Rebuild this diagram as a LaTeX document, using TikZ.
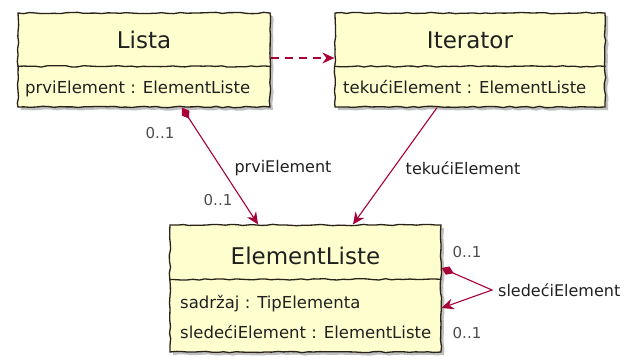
\documentclass[tikz,border=0pt]{standalone}
\usepackage{fontspec}
\setmainfont{DejaVu Sans}
\usetikzlibrary{arrows.meta,shadows,decorations.pathmorphing}
\definecolor{umlfill}{HTML}{FEFECE}
\definecolor{umlline}{HTML}{2A2218}
\definecolor{umlarrow}{HTML}{A80036}
\definecolor{umltext}{HTML}{202020}
\pgfmathsetseed{7}
\tikzset{
  handdrawn/.style={decorate, decoration={random steps, segment length=6pt, amplitude=0.7pt}},
  classbox/.style n args={2}{draw=umlline, line width=1.3pt, fill=umlfill,
    minimum width=#1, minimum height=#2, inner sep=0pt,
    drop shadow={shadow xshift=3pt, shadow yshift=-3pt, fill=black, opacity=0.25},
    handdrawn},
  divider/.style={draw=umlline, line width=1.3pt, handdrawn},
  classtitle/.style={font=\fontsize{23}{27}\selectfont, text=umltext, inner sep=0pt, anchor=base},
  attr/.style={font=\fontsize{16.5}{19}\selectfont, text=umltext, inner sep=0pt, anchor=base west},
  mult/.style={font=\fontsize{15}{18}\selectfont, text=umltext!80, inner sep=0pt},
  rolelabel/.style={font=\fontsize{16}{19}\selectfont, text=umltext, inner sep=0pt},
  assoc/.style={draw=umlarrow, line width=1.1pt},
  headtip/.style={-{Stealth[length=12pt, width=11pt, inset=4pt]}},
  comptip/.style={{Diamond[length=13pt, width=9pt]}-{Stealth[length=12pt, width=11pt, inset=4pt]}},
}
\begin{document}
\begin{tikzpicture}[x=1pt, y=-1pt]
  \useasboundingbox (0,0) rectangle (626,357);

  % class boxes
  \node[classbox={252pt}{94pt}] (lista) at (144,60) {};
  \node[classbox={270pt}{94pt}] (iterator) at (470,60) {};
  \node[classbox={271pt}{127pt}] (elem) at (305.5,288.5) {};

  % compartment dividers
  \draw[divider] ([yshift=-54pt]lista.north west) -- ([yshift=-54pt]lista.north east);
  \draw[divider] ([yshift=-54pt]iterator.north west) -- ([yshift=-54pt]iterator.north east);
  \draw[divider] ([yshift=-55pt]elem.north west) -- ([yshift=-55pt]elem.north east);

  % class names
  \node[classtitle] (listaname) at (144,48) {Lista};
  \node[classtitle] (iteratorname) at (470,48) {Iterator};
  \node[classtitle] (elemname) at (305.5,264) {ElementListe};

  % attributes
  \node[attr] (listaattr) at (25,93) {prviElement : ElementListe};
  \node[attr] (iteratorattr) at (343,93) {tekućiElement : ElementListe};
  \node[attr] (elemattr1) at (180,308) {sadržaj : TipElementa};
  \node[attr] (elemattr2) at (180,338) {sledećiElement : ElementListe};

  % dependency Lista -> Iterator
  \draw[assoc, dashed, dash pattern=on 8pt off 6pt, headtip]
    ([yshift=2pt]lista.east) -- ([yshift=2pt]iterator.west);

  % composition Lista -> ElementListe
  \draw[assoc, comptip] ([xshift=38pt]lista.south) -- ([xshift=-47.5pt]elem.north);
  \node[mult] (m1) at (160,133) {0..1};
  \node[rolelabel] (r1) at (283,168) {prviElement};
  \node[mult] (m2) at (218,200) {0..1};

  % association Iterator -> ElementListe
  \draw[assoc, headtip] ([xshift=-33pt]iterator.south) -- ([xshift=47.5pt]elem.north);
  \node[rolelabel] (r2) at (463,168) {tekućiElement};

  % self composition on ElementListe
  \coordinate (loop) at (492,290);
  \draw[assoc, comptip] ([yshift=20.5pt]elem.east) -- (loop) -- ([yshift=-19.5pt]elem.east);
  \node[mult] (m3) at (467,252) {0..1};
  \node[mult] (m4) at (467,333) {0..1};
  \node[rolelabel, anchor=west] (r3) at (498,290) {sledećiElement};
\end{tikzpicture}
\end{document}
